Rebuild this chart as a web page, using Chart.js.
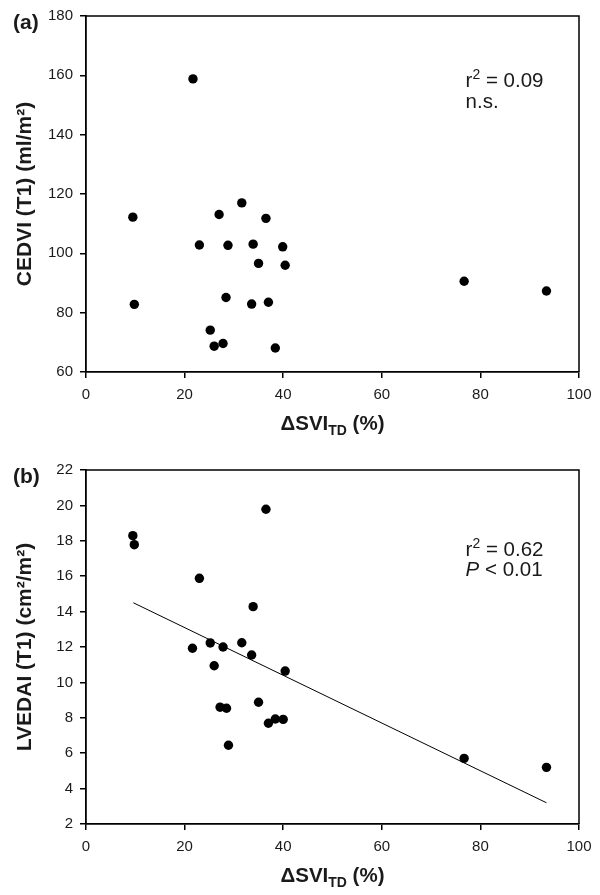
<!DOCTYPE html>
<html>
<head>
<meta charset="utf-8">
<script src="https://cdn.jsdelivr.net/npm/chart.js@4"></script>
<style>
  html, body { margin: 0; padding: 0; background: #fff; }
  body { width: 600px; height: 895px; position: relative; overflow: hidden; }
  .panel { position: absolute; left: 0; width: 600px; }
  #pa { top: 0; height: 448px; }
  #pb { top: 448px; height: 447px; }
</style>
</head>
<body>
<div class="panel" id="pa"><canvas id="chartA" width="600" height="448"></canvas></div>
<div class="panel" id="pb"><canvas id="chartB" width="600" height="447"></canvas></div>
<script>
// ΔSVI_TD (%) for each patient, panel (a)
const dSVI = [21.7, 9.5, 27.0, 31.6, 36.5, 23.0, 28.8, 33.9, 39.9, 35.0, 40.4,
              9.8, 28.4, 33.6, 37.0, 25.2, 26.0, 27.8, 38.4, 76.7, 93.4];
// panel (a) CEDVI (T1) ml/m2
const cedvi = [158.8, 112.2, 113.1, 117.0, 111.8, 102.8, 102.7, 103.1, 102.2, 96.6, 96.0,
               82.8, 85.1, 82.9, 83.5, 74.1, 68.7, 69.6, 68.1, 90.6, 87.3];
// panel (b) x / LVEDAI (T1) cm2/m2
const dSVIb = [9.5, 9.8, 36.5, 23.0, 33.9, 21.6, 25.2, 27.8, 31.6, 33.6, 26.0,
               40.4, 27.2, 28.5, 28.9, 35.0, 37.0, 38.4, 40.0, 76.7, 93.4];
const lvedai = [18.29, 17.78, 19.78, 15.88, 14.28, 11.93, 12.23, 12.0, 12.24, 11.55, 10.94,
                10.64, 8.6, 8.54, 6.45, 8.88, 7.69, 7.93, 7.91, 5.71, 5.2];
// fitted regression line end points (panel b)
const fitX = [9.6, 93.4];
const fitY = [14.5, 3.2];

const xTicks = [0, 20, 40, 60, 80, 100];
const yTicksA = [60, 80, 100, 120, 140, 160, 180];
const yTicksB = [2, 4, 6, 8, 10, 12, 14, 16, 18, 20, 22];

const FONT = '"Liberation Sans", Arial, Helvetica, sans-serif';
const INK = '#1a1a1a';

function pts(xs, ys) { return xs.map((x, i) => ({ x: x, y: ys[i] })); }

// text made of parts: [text, mode] with mode '', 'sup', 'sub', 'i'
function richWidth(ctx, parts, size, weight) {
  let w = 0;
  parts.forEach(p => {
    const s = (p[1] === 'sup' || p[1] === 'sub') ? size * 0.68 : size;
    ctx.font = (p[1] === 'i' ? 'italic ' : '') + weight + ' ' + s + 'px ' + FONT;
    w += ctx.measureText(p[0]).width;
  });
  return w;
}
function drawRich(ctx, x, y, parts, size, weight, align) {
  let cx = align === 'center' ? x - richWidth(ctx, parts, size, weight) / 2 : x;
  ctx.save();
  ctx.fillStyle = INK;
  ctx.textBaseline = 'alphabetic';
  ctx.textAlign = 'left';
  parts.forEach(p => {
    let s = size, dy = 0;
    if (p[1] === 'sup') { s = size * 0.68; dy = -size * 0.4; }
    if (p[1] === 'sub') { s = size * 0.68; dy = size * 0.22; }
    ctx.font = (p[1] === 'i' ? 'italic ' : '') + weight + ' ' + s + 'px ' + FONT;
    ctx.fillText(p[0], cx, y + dy);
    cx += ctx.measureText(p[0]).width;
  });
  ctx.restore();
}

const xTitle = [['\u0394SVI', ''], ['TD', 'sub'], [' (%)', '']];

// frame on top/right, panel letter, x title, annotations
const decor = {
  id: 'decor',
  afterDraw(chart, args, o) {
    const ctx = chart.ctx, a = chart.chartArea;
    const sx = chart.scales.x, sy = chart.scales.y;
    ctx.save();
    ctx.strokeStyle = '#000';
    ctx.lineWidth = 1.5;
    ctx.beginPath();
    ctx.moveTo(a.left, a.top);
    ctx.lineTo(a.right, a.top);
    ctx.lineTo(a.right, a.bottom);
    ctx.stroke();
    ctx.restore();
    drawRich(ctx, 13, a.top + 13, [[o.letter, '']], 21, 'bold', 'left');
    drawRich(ctx, (a.left + a.right) / 2, a.bottom + 58, xTitle, 20.5, 'bold', 'center');
    o.notes.forEach(n => {
      drawRich(ctx, sx.getPixelForValue(n.x), sy.getPixelForValue(n.y), n.parts, 20.5, 'normal', 'left');
    });
  }
};

function makeChart(id, data, yMin, yMax, yTitle, padTop, extra, opts) {
  const datasets = [{
    data: data,
    backgroundColor: '#000',
    borderWidth: 0,
    pointRadius: 4.7,
    pointHoverRadius: 4.7
  }].concat(extra);
  return new Chart(document.getElementById(id), {
    type: 'scatter',
    data: { datasets: datasets },
    options: {
      responsive: false,
      animation: false,
      layout: { padding: { top: padTop, right: 21, bottom: 0, left: 0 } },
      plugins: { legend: { display: false }, tooltip: { enabled: false }, decor: opts },
      scales: {
        x: {
          type: 'linear', min: 0, max: 100,
          afterBuildTicks: s => { s.ticks = xTicks.map(v => ({ value: v })); },
          afterFit: s => { s.height = opts.xh; },
          grid: { drawOnChartArea: false, drawTicks: true, tickLength: 6, color: '#000', lineWidth: 1.5 },
          border: { display: true, color: '#000', width: 1.8 },
          ticks: { color: INK, font: { family: FONT, size: 15 }, padding: 8, maxRotation: 0 }
        },
        y: {
          type: 'linear', min: yMin, max: yMax,
          afterBuildTicks: s => { s.ticks = opts.yTicks.map(v => ({ value: v })); },
          afterFit: s => { s.width = 86; },
          grid: { drawOnChartArea: false, drawTicks: true, tickLength: 6, color: '#000', lineWidth: 1.5 },
          border: { display: true, color: '#000', width: 1.8 },
          ticks: { color: INK, font: { family: FONT, size: 15 }, padding: 7 },
          title: { display: true, text: yTitle, color: INK,
                   font: { family: FONT, size: 21, weight: 'bold' }, padding: { top: 13, bottom: 0 } }
        }
      }
    },
    plugins: [decor]
  });
}

makeChart('chartA', pts(dSVI, cedvi), 60, 180, 'CEDVI (T1) (ml/m\u00B2)', 16, [], {
  letter: '(a)', xh: 448 - 372, yTicks: yTicksA,
  notes: [
    { x: 77, y: 156.1, parts: [['r', ''], ['2', 'sup'], [' = 0.09', '']] },
    { x: 77, y: 149.0, parts: [['n.s.', '']] }
  ]
});

makeChart('chartB', pts(dSVIb, lvedai), 2, 22, 'LVEDAI (T1) (cm\u00B2/m\u00B2)', 22, [{
  data: pts(fitX, fitY),
  showLine: true,
  borderColor: '#000',
  borderWidth: 1,
  pointRadius: 0,
  fill: false
}], {
  letter: '(b)', xh: 447 - 376, yTicks: yTicksB,
  notes: [
    { x: 77, y: 17.14, parts: [['r', ''], ['2', 'sup'], [' = 0.62', '']] },
    { x: 77, y: 16.01, parts: [['P', 'i'], [' < 0.01', '']] }
  ]
});
</script>
</body>
</html>
